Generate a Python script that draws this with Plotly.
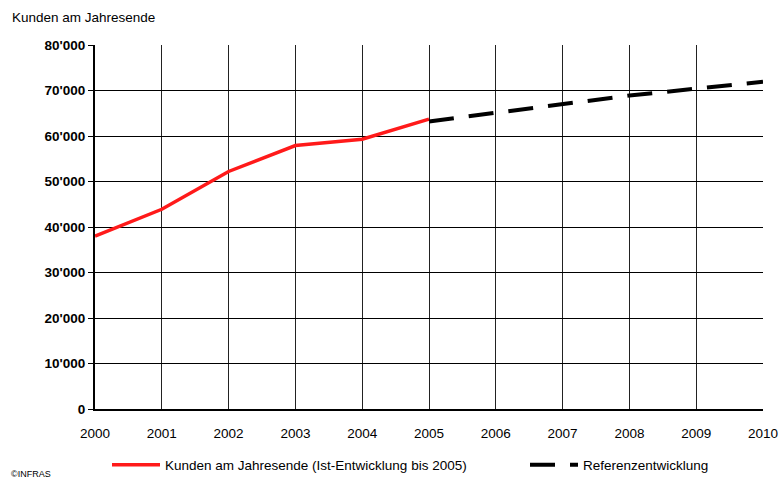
import plotly.graph_objects as go

years_ist = [2000, 2001, 2002, 2003, 2004, 2005]
kunden_ist = [38000, 43900, 52200, 57900, 59300, 63700]

years_ref = [2005, 2006, 2007, 2008, 2009, 2010]
kunden_ref = [63200, 65100, 67000, 68900, 70400, 71900]

y_tickvals = [0, 10000, 20000, 30000, 40000, 50000, 60000, 70000, 80000]
y_ticktext = ["0", "10'000", "20'000", "30'000", "40'000", "50'000", "60'000", "70'000", "80'000"]
x_tickvals = list(range(2000, 2011))

FONT = "Liberation Sans, Arial, sans-serif"
FS = 13.5

fig = go.Figure()
fig.add_trace(go.Scatter(
    x=years_ist, y=kunden_ist, mode="lines",
    name="Kunden am Jahresende (Ist-Entwicklung bis 2005)",
    line=dict(color="#ff1a1a", width=3.5),
    legendwidth=355,
))
fig.add_trace(go.Scatter(
    x=years_ref, y=kunden_ref, mode="lines",
    name="Referenzentwicklung",
    line=dict(color="black", width=4, dash="25px,15px"),
    legendwidth=140,
))

fig.update_layout(
    width=779, height=479,
    margin=dict(l=95, r=16, t=45, b=70, autoexpand=False),
    paper_bgcolor="white", plot_bgcolor="white",
    font=dict(family=FONT, size=FS, color="black"),
    showlegend=True,
    legend=dict(
        orientation="h", x=12/668, xanchor="left", y=-56/364, yanchor="middle",
        font=dict(family=FONT, size=FS, color="black"),
        itemwidth=48,
        bgcolor="rgba(0,0,0,0)",
    ),
    xaxis=dict(
        range=[2000, 2010], tickvals=x_tickvals,
        showgrid=True, gridcolor="#222", gridwidth=1,
        showline=True, linecolor="black", linewidth=2,
        ticks="", zeroline=False,
        tickfont=dict(family=FONT, size=FS),
        ticklabelstandoff=11,
    ),
    yaxis=dict(
        range=[0, 80000], tickvals=y_tickvals, ticktext=y_ticktext,
        showgrid=True, gridcolor="black", gridwidth=1,
        showline=True, linecolor="black", linewidth=2,
        ticks="outside", ticklen=5, tickcolor="black",
        zeroline=False,
        tickfont=dict(family=FONT, size=FS, weight="bold"),
    ),
    annotations=[
        dict(text="Kunden am Jahresende", xref="paper", yref="paper",
             x=-85/668, y=1 + 28/364, xanchor="left", yanchor="middle",
             showarrow=False, font=dict(family=FONT, size=FS)),
        dict(text="©INFRAS", xref="paper", yref="paper",
             x=-86/668, y=-65/364, xanchor="left", yanchor="middle",
             showarrow=False, font=dict(family=FONT, size=9)),
    ],
)

fig.write_html(
    "out.html",
    config={"displayModeBar": False},
    post_script="document.body.style.margin='0';document.body.style.padding='0';",
)
